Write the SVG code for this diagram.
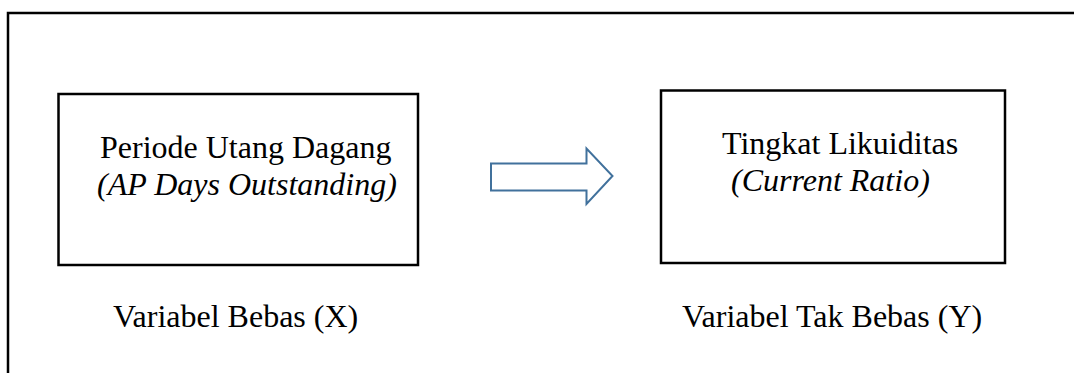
<svg xmlns="http://www.w3.org/2000/svg" width="1074" height="373" viewBox="0 0 1074 373">
<style>
.frame{fill:none;stroke:#000;stroke-width:2.5}
.box{fill:#fff;stroke:#000;stroke-width:2.5}
.t{font-family:"Liberation Serif","Times New Roman",serif;font-size:32px;fill:#000}
.i{font-style:italic}
.arrow{fill:#fff;stroke:#41719C;stroke-width:2;stroke-linejoin:miter}
</style>
<rect width="1074" height="373" fill="#fff"/>
<g id="frame">
<path class="frame" d="M8 373 V13 H1074"/>
</g>
<g id="node-x">
<rect class="box" x="58.5" y="94" width="359.5" height="171"/>
<text class="t" x="100" y="158">Periode Utang Dagang</text>
<text class="t i" x="97" y="195">(AP Days Outstanding)</text>
</g>
<g id="node-y">
<rect class="box" x="661" y="90.5" width="344" height="172.5"/>
<text class="t" x="722" y="154">Tingkat Likuiditas</text>
<text class="t i" x="731" y="191">(Current Ratio)</text>
</g>
<g id="connectors">
<path class="arrow" d="M491 163.5 H586.5 V148.5 L612.5 176 L586.5 204 V190.5 H491 Z"/>
</g>
<g id="labels">
<text class="t" x="113" y="327">Variabel Bebas (X)</text>
<text class="t" x="682" y="327">Variabel Tak Bebas (Y)</text>
</g>
</svg>
